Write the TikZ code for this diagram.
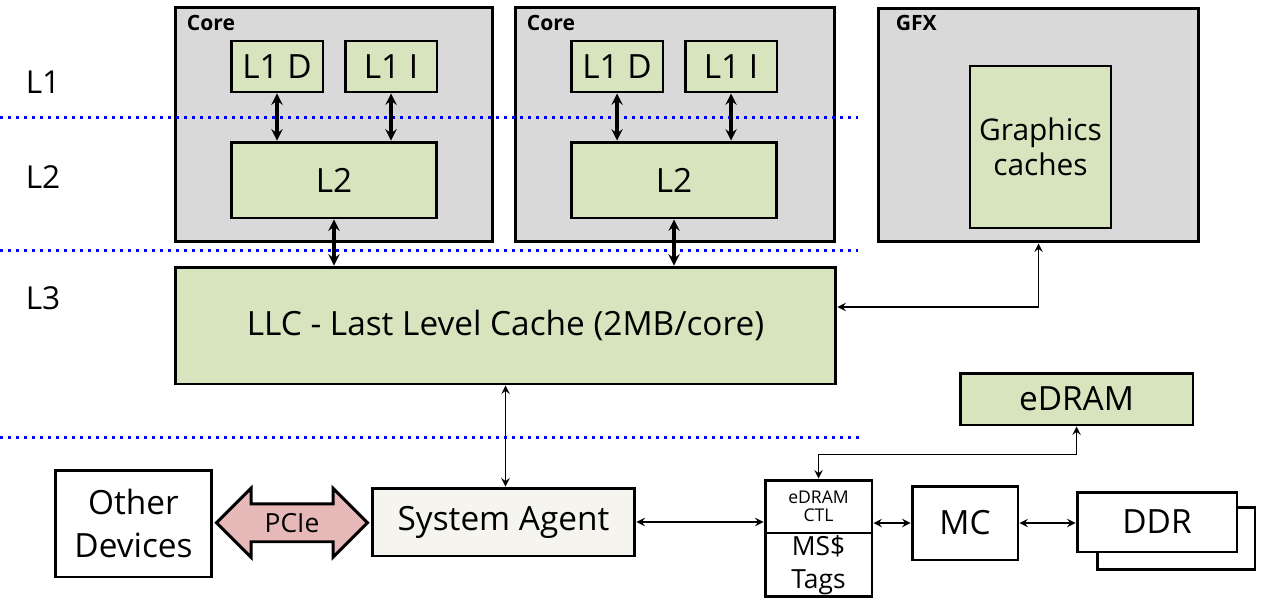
\documentclass[tikz,border=0pt]{standalone}
\usepackage{fontspec}
\setmainfont{Open Sans}
\usetikzlibrary{arrows,
  calc,
  positioning,
  shapes,
  shapes.arrows
}

\definecolor{cachegreen}{HTML}{D7E4BD}
\definecolor{coregray}{HTML}{D9D9D9}
\definecolor{pciepink}{HTML}{E6B9B8}
\definecolor{agentwhite}{HTML}{F5F4EF}

\tikzset{
  unitbox/.style={draw, line width=1.7pt, fill=coregray, inner sep=0pt},
  cachebox/.style={draw, line width=1.7pt, fill=cachegreen, inner sep=0pt, align=center,
    font=\fontsize{19}{24}\selectfont},
  plainbox/.style={draw, line width=1.7pt, fill=white, inner sep=0pt, align=center,
    font=\fontsize{19}{24}\selectfont},
  unitlabel/.style={anchor=west, inner sep=0pt, font=\fontsize{12}{14}\selectfont\bfseries},
  levellabel/.style={inner sep=0pt, font=\fontsize{18}{22}\selectfont},
  levelline/.style={blue, line width=0.06cm, dash pattern=on 0.06cm off 0.1cm},
  corelink/.style={<->, >=stealth, line width=1.8pt},
  link/.style={<->, >=stealth, line width=1.1pt},
}

\begin{document}
\begin{tikzpicture}[x=0.02cm, y=-0.02cm]
  \useasboundingbox (0,0) rectangle (1264,605);

  % Cores
  \node[unitbox, minimum width=6.36cm, minimum height=4.70cm] (core1) at (334,124.5) {};
  \node[unitbox, minimum width=6.40cm, minimum height=4.70cm] (core2) at (675,124.5) {};
  \node[unitlabel] (core1name) at ([shift={(0.26cm,-0.34cm)}]core1.north west) {Core};
  \node[unitlabel] (core2name) at ([shift={(0.26cm,-0.34cm)}]core2.north west) {Core};

  \node[cachebox, minimum width=1.84cm, minimum height=1.02cm] (l1d1) at (277,66.5) {L1 D};
  \node[cachebox, minimum width=1.84cm, minimum height=1.02cm] (l1i1) at (391,66.5) {L1 I};
  \node[cachebox, minimum width=4.12cm, minimum height=1.52cm] (l2a) at (334,180) {L2};
  \node[cachebox, minimum width=1.84cm, minimum height=1.02cm] (l1d2) at (617,66.5) {L1 D};
  \node[cachebox, minimum width=1.84cm, minimum height=1.02cm] (l1i2) at (731,66.5) {L1 I};
  \node[cachebox, minimum width=4.12cm, minimum height=1.52cm] (l2b) at (674,180) {L2};

  % GFX
  \node[unitbox, minimum width=6.42cm, minimum height=4.68cm] (gfx) at (1038.5,125) {};
  \node[unitlabel] (gfxname) at ([shift={(0.38cm,-0.32cm)}]gfx.north west) {GFX};
  \node[cachebox, line width=0.8pt, minimum width=2.82cm, minimum height=3.24cm,
    font=\fontsize{17}{20}\selectfont] (gcache) at (1040.5,147) {Graphics\\caches};

  % LLC
  \node[cachebox, minimum width=13.22cm, minimum height=2.34cm] (llc) at (505.5,325.5)
    {LLC - Last Level Cache (2MB/core)};

  % uncore
  \node[cachebox, minimum width=4.66cm, minimum height=1.04cm] (edram) at (1076.5,399) {eDRAM};
  \node[plainbox, fill=agentwhite, minimum width=5.26cm, minimum height=1.36cm] (sa) at (503.5,522) {System Agent};
  \node[plainbox, minimum width=3.14cm, minimum height=2.14cm] (other) at (133.5,523.5) {Other\\Devices};
  \node[plainbox, minimum width=2.14cm, minimum height=1.06cm,
    font=\fontsize{10}{10.5}\selectfont] (ctl) at (818.5,506.5) {eDRAM\\CTL};
  \node[plainbox, minimum width=2.14cm, minimum height=1.28cm, anchor=north,
    font=\fontsize{15}{19}\selectfont] (tags) at ([yshift=1.7pt]ctl.south) {MS\$\\Tags};
  \node[plainbox, minimum width=2.12cm, minimum height=1.48cm] (mc) at (965,523) {MC};
  \node[plainbox, minimum width=3.16cm, minimum height=1.24cm] (ddrback) at (1176,538.5) {};
  \node[plainbox, minimum width=3.20cm, minimum height=1.20cm] (ddr) at (1157,522) {DDR};

  % PCIe
  \node[double arrow, draw, line width=1.7pt, fill=pciepink, minimum height=3.02cm,
    double arrow head extend=0.31cm, inner xsep=0pt, inner ysep=0.15cm,
    text height=0.4cm, text depth=0cm, font=\fontsize{15}{18}\selectfont]
    (pcie) at ($(other.east)!0.5!(sa.west)$) {PCIe};

  % levels
  \node[levellabel] (lvl1) at (43,82) {L1};
  \node[levellabel] (lvl2) at (43,177) {L2};
  \node[levellabel] (lvl3) at (43,298) {L3};
  \draw[levelline] (0,117) -- (858,117);
  \draw[levelline] (0,250) -- (858,250);
  \draw[levelline] (0,437) -- (862,437);

  % links
  \draw[corelink] (l1d1.south) -- (l1d1.south |- l2a.north);
  \draw[corelink] (l1i1.south) -- (l1i1.south |- l2a.north);
  \draw[corelink] (l1d2.south) -- (l1d2.south |- l2b.north);
  \draw[corelink] (l1i2.south) -- (l1i2.south |- l2b.north);
  \draw[corelink] (l2a.south) -- (l2a.south |- llc.north);
  \draw[corelink] (l2b.south) -- (l2b.south |- llc.north);
  \draw[link] ([yshift=0.37cm]llc.east) -| (gfx.south);
  \draw[link] (llc.south) -- (llc.south |- sa.north);
  \draw[link] (sa.east) -- (sa.east -| ctl.west);
  \draw[link] (mc.west -| ctl.east) -- (mc.west);
  \draw[link] (mc.east) -- (mc.east -| ddr.west);
  \draw[link] (edram.south) -- ++(0,28) -| (ctl.north);
\end{tikzpicture}
\end{document}
